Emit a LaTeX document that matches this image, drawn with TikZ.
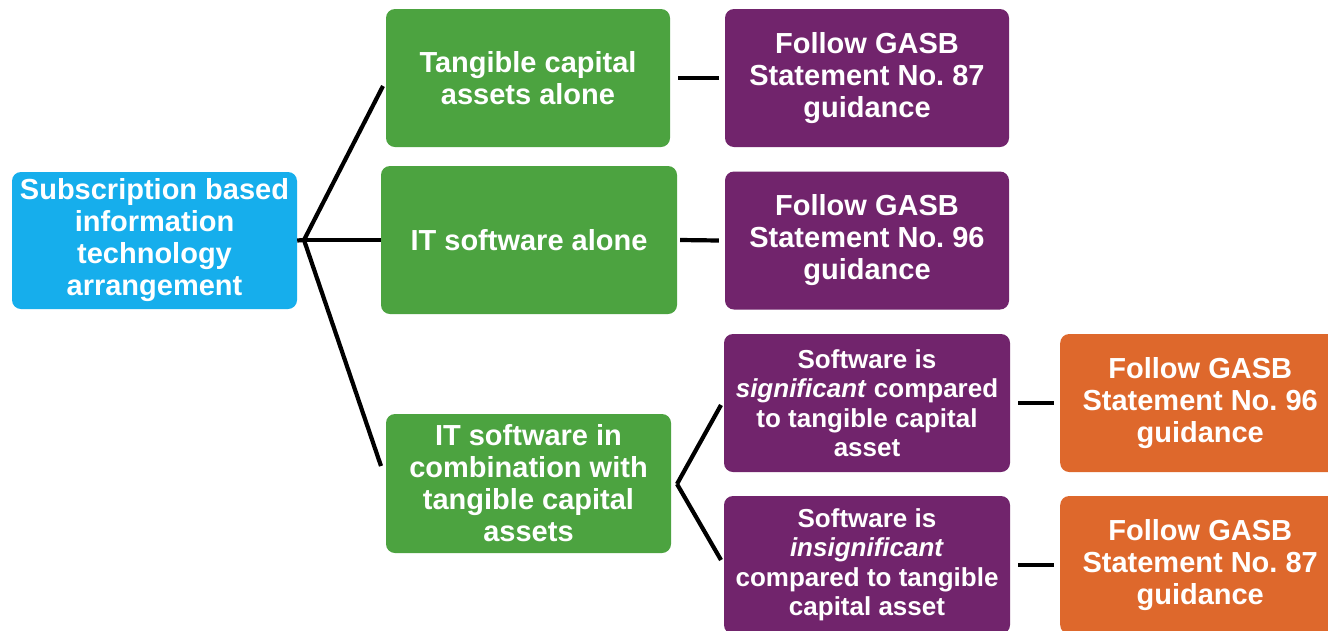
\documentclass[tikz,border=0pt]{standalone}
\usepackage{fontspec}
\setmainfont{Liberation Sans}
\begin{document}
\frenchspacing
\begin{tikzpicture}[x=1pt,y=-1pt,
  box/.style={rounded corners=9pt, text=white, align=center,
    font=\bfseries\fontsize{29}{32}\selectfont, inner sep=0pt},
  rootbox/.style={box, fill=rootblue, minimum width=285pt, minimum height=137pt},
  casebox/.style={box, fill=casegreen},
  rulebox/.style={box, fill=rulepurple, minimum width=284pt, minimum height=138pt},
  subbox/.style={box, fill=rulepurple, minimum width=286pt, minimum height=138pt,
    font=\bfseries\fontsize{26}{29.5}\selectfont},
  endbox/.style={box, fill=endorange, minimum width=280pt, minimum height=138pt},
  link/.style={line width=4.2pt, black}]
\definecolor{rootblue}{RGB}{22,174,236}
\definecolor{casegreen}{RGB}{76,163,64}
\definecolor{rulepurple}{RGB}{113,36,108}
\definecolor{endorange}{RGB}{222,104,44}
\useasboundingbox (0,0) rectangle (1328,630);
\fill[white] (0,0) rectangle (1328,630);

% root
\node[rootbox] (root) at (154.5,240.5) {Subscription based\\information\\technology\\arrangement};

% cases
\node[casebox, minimum width=284pt, minimum height=138pt] (tca) at (528,78) {Tangible capital\\assets alone};
\node[casebox, minimum width=296pt, minimum height=148pt] (its) at (529,240) {IT software alone};
\node[casebox, minimum width=285pt, minimum height=139pt] (mix) at (528.5,483.5) {IT software in\\combination with\\tangible capital\\assets};

% guidance for single cases
\node[rulebox] (g87) at (867,78) {Follow GASB\\Statement No. 87\\guidance};
\node[rulebox] (g96) at (867,240.5) {Follow GASB\\Statement No. 96\\guidance};

% combined case split
\node[subbox] (sig) at (867,403) {Software is\\\textit{significant} compared\\to tangible capital\\asset};
\node[subbox] (insig) at (867,565) {Software is\\\textit{insignificant}\\compared to tangible\\capital asset};

% final guidance
\node[endbox, anchor=west] (e96) at (1060,403) {Follow GASB\\Statement No. 96\\guidance};
\node[endbox, anchor=west] (e87) at (1060,565) {Follow GASB\\Statement No. 87\\guidance};

% connectors
\coordinate (fan) at (304,240);
\coordinate (fanA) at (383,86);
\coordinate (fanC) at (381,466);
\draw[link] (root.east) -- (fan);
\draw[link] (fan) -- (fanA);
\draw[link] (fan) -- (its.west);
\draw[link] (fan) -- (fanC);

\coordinate (split) at (677,484);
\coordinate (splitA) at (721,405);
\coordinate (splitB) at (721,560);
\draw[link] (split) -- (splitA);
\draw[link] (split) -- (splitB);

\draw[link] ([xshift=8pt]tca.east) -- ([xshift=-6pt]g87.west);
\draw[link] ([xshift=3pt]its.east) -- ([xshift=-6pt]g96.west);
\draw[link] ([xshift=8pt]sig.east) -- ([xshift=-6pt]e96.west);
\draw[link] ([xshift=8pt]insig.east) -- ([xshift=-6pt]e87.west);
\end{tikzpicture}
\end{document}
